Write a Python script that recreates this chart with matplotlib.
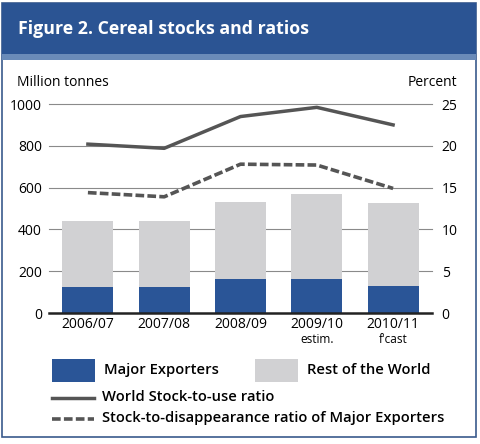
import matplotlib.pyplot as plt
from matplotlib.patches import Rectangle
from matplotlib.lines import Line2D

plt.rcParams['font.family'] = ['Open Sans', 'DejaVu Sans']

years = ['2006/07', '2007/08', '2008/09', '2009/10', '2010/11']
year_notes = ['', '', '', 'estim.', "f'cast"]
major_exporters = [125, 125, 163, 163, 130]
rest_of_world = [317, 317, 370, 404, 394]
world_ratio = [20.2, 19.7, 23.5, 24.6, 22.5]
major_ratio = [14.4, 13.9, 17.8, 17.7, 14.9]

W, H = 480, 444
BLUE = '#2a5597'
GREY = '#d1d1d3'
LINE = '#555555'
DASH = (0, (2.4, 0.9))


def fx(x):
    return x / W


def fy(y):
    return 1 - y / H


fig = plt.figure(figsize=(W / 100, H / 100), dpi=100)

# frame and header
fig.patches.append(Rectangle((fx(2), fy(437)), fx(474), (437 - 3) / H, transform=fig.transFigure,
                             fill=False, edgecolor='#3a5a8c', linewidth=1.2))
fig.patches.append(Rectangle((fx(2), fy(54)), fx(474), 51 / H, transform=fig.transFigure,
                             facecolor='#2b5493', edgecolor='none'))
fig.patches.append(Rectangle((fx(2), fy(60)), fx(474), 6 / H, transform=fig.transFigure,
                             facecolor='#6a8bb9', edgecolor='none'))
fig.text(fx(18), fy(29), 'Figure 2. Cereal stocks and ratios', color='white',
         fontsize=12.8, fontweight='bold', va='center', ha='left')

# main axes
ax = fig.add_axes([fx(49), fy(313), (432 - 49) / W, (313 - 104) / H])
x = range(len(years))
ax.bar(x, major_exporters, width=0.67, color=BLUE, zorder=2)
ax.bar(x, rest_of_world, width=0.67, bottom=major_exporters, color=GREY, zorder=2)
ax.set_xlim(-0.51, 4.51)
ax.set_ylim(0, 1000)
ax.set_yticks(range(0, 1001, 200))
for v in range(200, 1001, 200):
    ax.axhline(v, color='#8a8a8a', linewidth=0.8, zorder=1, clip_on=False)
for s in ['top', 'right', 'left']:
    ax.spines[s].set_visible(False)
ax.spines['bottom'].set_linewidth(1.8)
ax.spines['bottom'].set_color('#222222')
ax.spines['bottom'].set_zorder(4)
ax.tick_params(axis='y', length=0, pad=5, labelsize=10)
ax.tick_params(axis='x', length=0, pad=3, labelsize=10)
ax.set_xticks(list(x))
ax.set_xticklabels(years)
for i, note in enumerate(year_notes):
    if note:
        ax.text(i, -0.125, note, transform=ax.get_xaxis_transform(), ha='center', va='center',
                fontsize=8.5)

ax2 = ax.twinx()
ax2.set_ylim(0, 25)
ax2.set_yticks(range(0, 26, 5))
ax2.plot(x, world_ratio, color=LINE, linewidth=2.5, zorder=3)
ax2.plot(x, major_ratio, color=LINE, linewidth=2.6, linestyle=DASH, zorder=3)
for s in ['top', 'right', 'left', 'bottom']:
    ax2.spines[s].set_visible(False)
ax2.tick_params(axis='y', length=0, pad=7, labelsize=10)

fig.text(fx(17), fy(83), 'Million tonnes', fontsize=10, va='center', ha='left')
fig.text(fx(457), fy(83), 'Percent', fontsize=10, va='center', ha='right')

# legend
fig.patches.append(Rectangle((fx(52), fy(382)), 43 / W, 23 / H, transform=fig.transFigure,
                             facecolor=BLUE, edgecolor='none'))
fig.patches.append(Rectangle((fx(255), fy(382)), 43 / W, 23 / H, transform=fig.transFigure,
                             facecolor=GREY, edgecolor='none'))
fig.text(fx(104), fy(370), 'Major Exporters', fontsize=10.6, fontweight='semibold', va='center')
fig.text(fx(307), fy(370), 'Rest of the World', fontsize=10.6, fontweight='semibold', va='center')
fig.lines.append(Line2D([fx(52), fx(94)], [fy(398), fy(398)], transform=fig.transFigure,
                        color=LINE, linewidth=2.5))
fig.lines.append(Line2D([fx(52), fx(94)], [fy(419), fy(419)], transform=fig.transFigure,
                        color=LINE, linewidth=2.6, linestyle=DASH))
fig.text(fx(102), fy(397), 'World Stock-to-use ratio', fontsize=10.6, fontweight='semibold',
         va='center')
fig.text(fx(102), fy(418), 'Stock-to-disappearance ratio of Major Exporters', fontsize=10.6,
         fontweight='semibold', va='center')

fig.savefig('out.png', dpi=100)
